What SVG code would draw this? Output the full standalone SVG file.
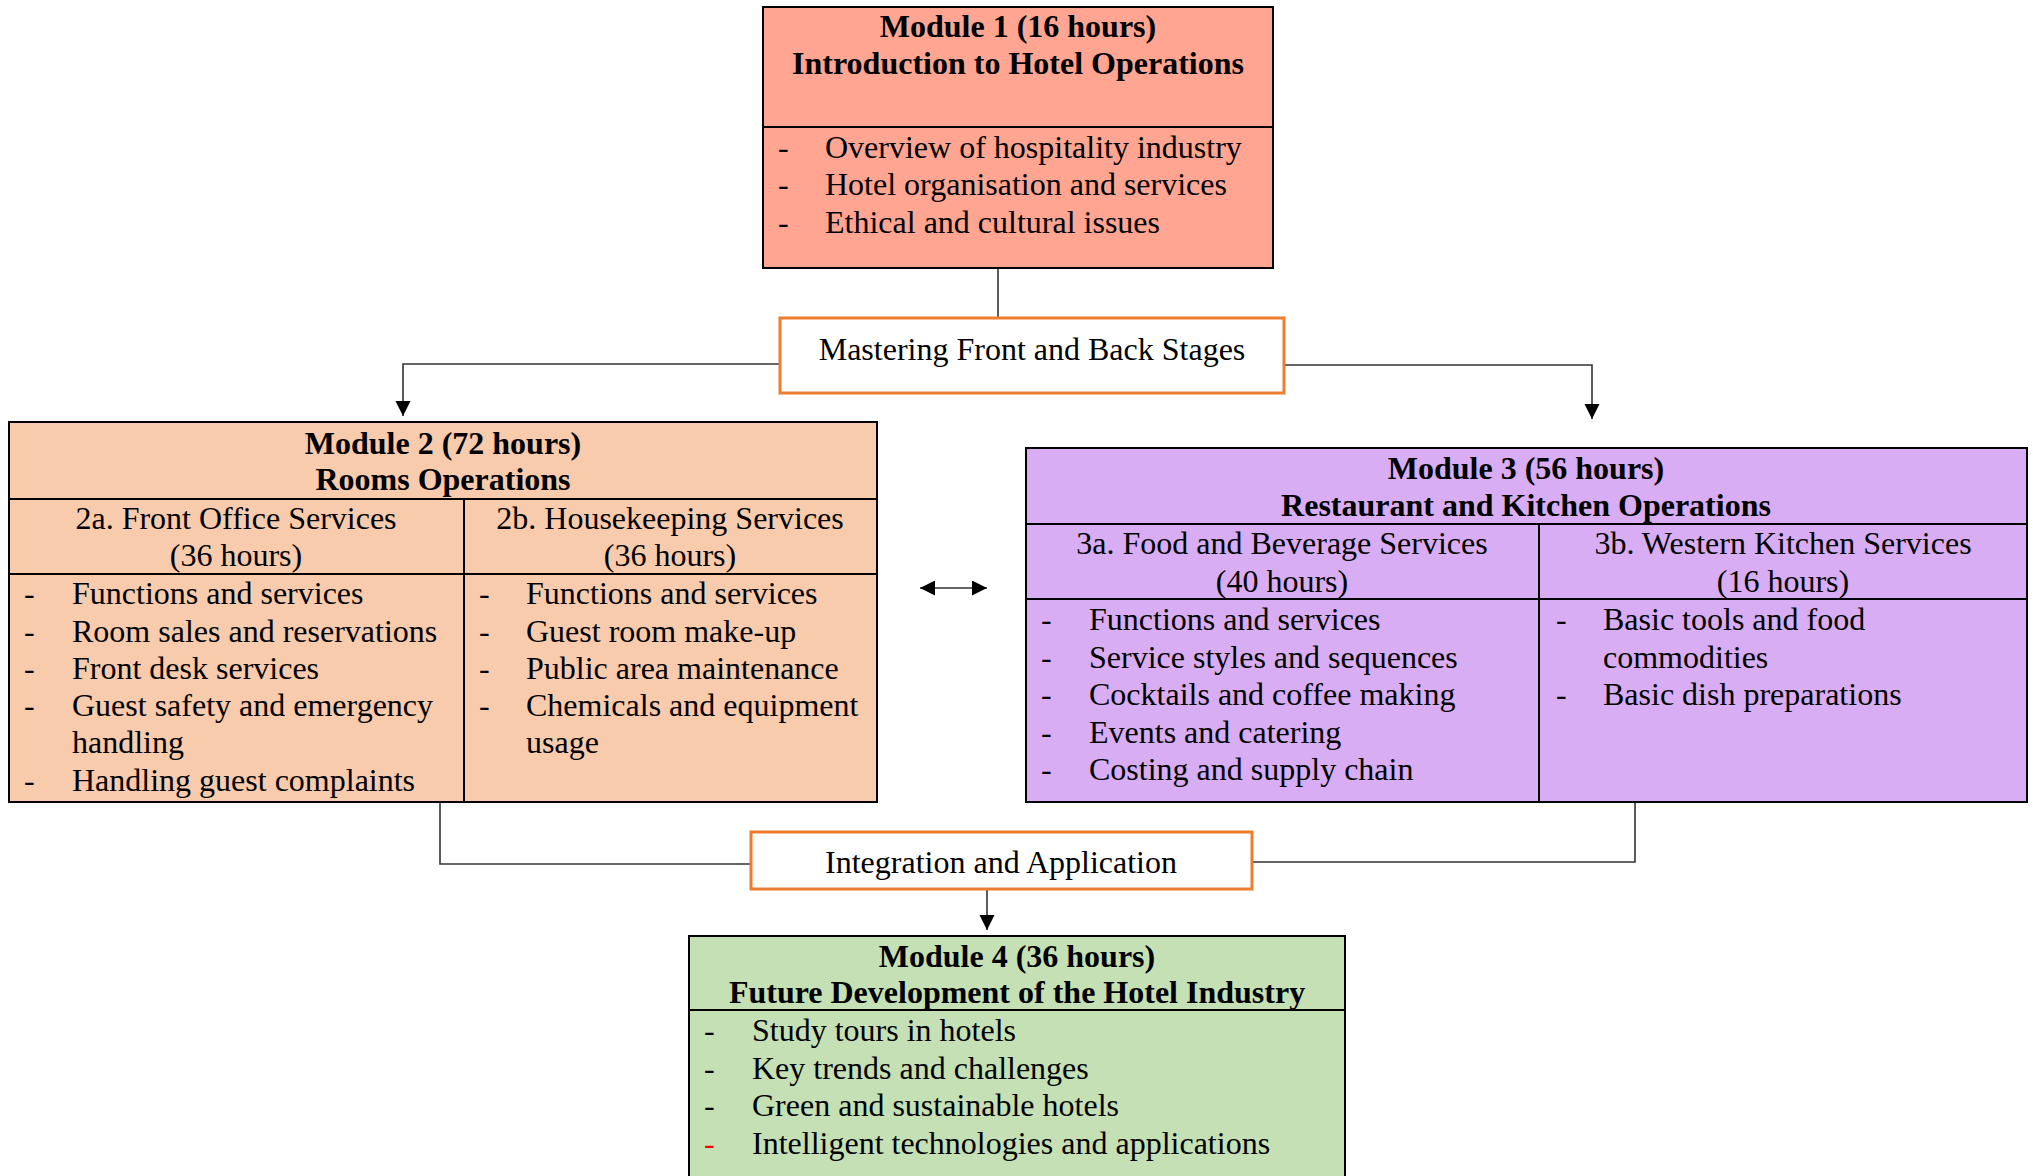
<svg xmlns="http://www.w3.org/2000/svg" width="2033" height="1176" viewBox="0 0 2033 1176">
<style>
.t{font-family:"Liberation Serif","Times New Roman",serif;font-size:32px;fill:#000}
.b{font-weight:bold}
.c{text-anchor:middle}
.box{stroke:#000;stroke-width:2}
.div{stroke:#000;stroke-width:2;fill:none}
.lab{fill:#fff;stroke:#ED7D31;stroke-width:3}
.conn{fill:none;stroke:#333;stroke-width:1.6}
</style>
<defs>
<marker id="ah" markerUnits="userSpaceOnUse" markerWidth="16" markerHeight="16" refX="15" refY="7.5" orient="auto">
<path d="M0,0 L15,7.5 L0,15 Z" fill="#000"/>
</marker>
<marker id="ahs" markerUnits="userSpaceOnUse" markerWidth="16" markerHeight="16" refX="0" refY="7.5" orient="auto">
<path d="M15,0 L0,7.5 L15,15 Z" fill="#000"/>
</marker>
</defs>
<rect width="2033" height="1176" fill="#fff"/>

<g id="connectors">
<line class="conn" x1="998" y1="268" x2="998" y2="318"/>
<path class="conn" d="M780 364 H403 V416" marker-end="url(#ah)"/>
<path class="conn" d="M1284 365 H1592 V419" marker-end="url(#ah)"/>
<path class="conn" d="M920 588 H987" marker-start="url(#ahs)" marker-end="url(#ah)"/>
<path class="conn" d="M440 798 V864 H751"/>
<path class="conn" d="M1635 802 V862 H1252"/>
<path class="conn" d="M987 889 V930" marker-end="url(#ah)"/>
</g>

<g id="module1">
<rect class="box" x="763" y="7" width="510" height="261" fill="#FFA591"/>
<line class="div" x1="763" y1="127" x2="1273" y2="127"/>
<text class="t b c" x="1018" y="37">Module 1 (16 hours)</text>
<text class="t b c" x="1018" y="74">Introduction to Hotel Operations</text>
<text class="t" x="778" y="158">-</text><text class="t" x="825" y="158">Overview of hospitality industry</text>
<text class="t" x="778" y="195">-</text><text class="t" x="825" y="195">Hotel organisation and services</text>
<text class="t" x="778" y="233">-</text><text class="t" x="825" y="233">Ethical and cultural issues</text>
</g>

<g id="label-mastering">
<rect class="lab" x="780" y="318" width="504" height="75"/>
<text class="t c" x="1032" y="360">Mastering Front and Back Stages</text>
</g>

<g id="module2">
<rect class="box" x="9" y="422" width="868" height="380" fill="#F8CBAD"/>
<line class="div" x1="9" y1="499" x2="877" y2="499"/>
<line class="div" x1="9" y1="574" x2="877" y2="574"/>
<line class="div" x1="464" y1="499" x2="464" y2="802"/>
<text class="t b c" x="443" y="454">Module 2 (72 hours)</text>
<text class="t b c" x="443" y="490">Rooms Operations</text>
<text class="t c" x="236" y="529">2a. Front Office Services</text>
<text class="t c" x="236" y="566">(36 hours)</text>
<text class="t c" x="670" y="529">2b. Housekeeping Services</text>
<text class="t c" x="670" y="566">(36 hours)</text>
<text class="t" x="24" y="604">-</text><text class="t" x="72" y="604">Functions and services</text>
<text class="t" x="24" y="642">-</text><text class="t" x="72" y="642">Room sales and reservations</text>
<text class="t" x="24" y="679">-</text><text class="t" x="72" y="679">Front desk services</text>
<text class="t" x="24" y="716">-</text><text class="t" x="72" y="716">Guest safety and emergency</text>
<text class="t" x="72" y="753">handling</text>
<text class="t" x="24" y="791">-</text><text class="t" x="72" y="791">Handling guest complaints</text>
<text class="t" x="479" y="604">-</text><text class="t" x="526" y="604">Functions and services</text>
<text class="t" x="479" y="642">-</text><text class="t" x="526" y="642">Guest room make-up</text>
<text class="t" x="479" y="679">-</text><text class="t" x="526" y="679">Public area maintenance</text>
<text class="t" x="479" y="716">-</text><text class="t" x="526" y="716">Chemicals and equipment</text>
<text class="t" x="526" y="753">usage</text>
</g>

<g id="module3">
<rect class="box" x="1026" y="448" width="1001" height="354" fill="#D8ADF4"/>
<line class="div" x1="1026" y1="524" x2="2027" y2="524"/>
<line class="div" x1="1026" y1="599" x2="2027" y2="599"/>
<line class="div" x1="1539" y1="524" x2="1539" y2="802"/>
<text class="t b c" x="1526" y="479">Module 3 (56 hours)</text>
<text class="t b c" x="1526" y="516">Restaurant and Kitchen Operations</text>
<text class="t c" x="1282" y="554">3a. Food and Beverage Services</text>
<text class="t c" x="1282" y="592">(40 hours)</text>
<text class="t c" x="1783" y="554">3b. Western Kitchen Services</text>
<text class="t c" x="1783" y="592">(16 hours)</text>
<text class="t" x="1041" y="630">-</text><text class="t" x="1089" y="630">Functions and services</text>
<text class="t" x="1041" y="668">-</text><text class="t" x="1089" y="668">Service styles and sequences</text>
<text class="t" x="1041" y="705">-</text><text class="t" x="1089" y="705">Cocktails and coffee making</text>
<text class="t" x="1041" y="743">-</text><text class="t" x="1089" y="743">Events and catering</text>
<text class="t" x="1041" y="780">-</text><text class="t" x="1089" y="780">Costing and supply chain</text>
<text class="t" x="1556" y="630">-</text><text class="t" x="1603" y="630">Basic tools and food</text>
<text class="t" x="1603" y="668">commodities</text>
<text class="t" x="1556" y="705">-</text><text class="t" x="1603" y="705">Basic dish preparations</text>
</g>

<g id="label-integration">
<rect class="lab" x="751" y="832" width="501" height="57"/>
<text class="t c" x="1001" y="873">Integration and Application</text>
</g>

<g id="module4">
<rect class="box" x="689" y="936" width="656" height="260" fill="#C5E0B4"/>
<line class="div" x1="689" y1="1010" x2="1345" y2="1010"/>
<text class="t b c" x="1017" y="967">Module 4 (36 hours)</text>
<text class="t b c" x="1017" y="1003">Future Development of the Hotel Industry</text>
<text class="t" x="704" y="1041">-</text><text class="t" x="752" y="1041">Study tours in hotels</text>
<text class="t" x="704" y="1079">-</text><text class="t" x="752" y="1079">Key trends and challenges</text>
<text class="t" x="704" y="1116">-</text><text class="t" x="752" y="1116">Green and sustainable hotels</text>
<text class="t" x="704" y="1154" style="fill:#FF0000">-</text><text class="t" x="752" y="1154">Intelligent technologies and applications</text>
</g>
</svg>
